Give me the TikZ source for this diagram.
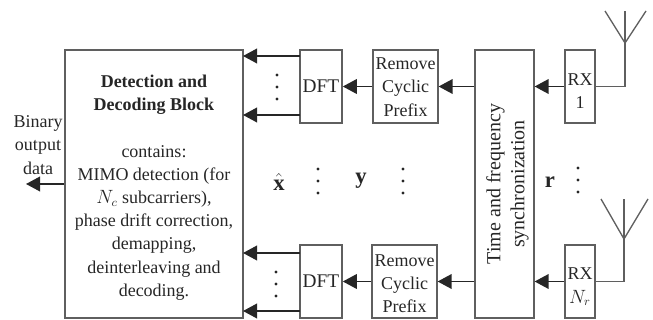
\documentclass[tikz,border=0pt]{standalone}
\usepackage{fontspec}
\setmainfont{Liberation Serif}
\usepackage{amsmath}
\usepackage{amssymb}
\usetikzlibrary{arrows.meta,positioning}
\usepackage{xcolor}
\definecolor{rxgray}{RGB}{95,95,95}
\tikzstyle{arrow} = [line width=1.1pt,-{Triangle[length=10.5pt,width=11pt]},color=black!85]
\tikzstyle{wire} = [line width=1pt,color=rxgray]
\tikzstyle{blockbox} = [rectangle, draw=rxgray, line width=1.2pt, text centered, inner sep=0pt, font=\fontsize{13.5pt}{17.4pt}\selectfont, text=black!85]
\tikzstyle{label} = [font=\fontsize{13.5pt}{17.4pt}\selectfont, align=center, inner sep=0pt, text=black!85]
\tikzstyle{symbol} = [font=\fontsize{17pt}{17pt}\selectfont, inner sep=0pt, text=black!85]

\begin{document}
\begin{tikzpicture}[x=0.75pt,y=-0.75pt]
\useasboundingbox (0,0) rectangle (653,320);

% Main block
\node (block) [blockbox, minimum width=133.5pt, minimum height=201pt] at (154,184) {};
\node (blocktext) [label] at (154,187.5) {\textbf{Detection and}\\\textbf{Decoding Block}\\[17.4pt]contains:\\MIMO detection (for\\$N_c$ subcarriers),\\phase drift correction,\\demapping,\\deinterleaving and\\decoding.};

% Top branch
\node (dfttop) [blockbox, minimum width=31.5pt, minimum height=55pt] at (321,86.5) {\fontsize{14.5pt}{17pt}\selectfont DFT};
\node (cptop) [blockbox, minimum width=48.5pt, minimum height=55pt] at (405.5,86.5) {};
\node (cptoptext) [label] at (405.5,87) {Remove\\Cyclic\\Prefix};
\node (rxtop) [blockbox, minimum width=22.5pt, minimum height=55pt] at (580,86.5) {};
\node (rxtoptext) [label] at (580,91) {RX\\1};

% Bottom branch
\node (dftbot) [blockbox, minimum width=31.5pt, minimum height=55pt] at (321,281.5) {\fontsize{14.5pt}{17pt}\selectfont DFT};
\node (cpbot) [blockbox, minimum width=48.5pt, minimum height=55pt] at (404.5,281.5) {};
\node (cpbottext) [label] at (404.5,283.5) {Remove\\Cyclic\\Prefix};
\node (rxbot) [blockbox, minimum width=22.5pt, minimum height=55pt] at (580,281.5) {};
\node (rxbottext) [label] at (580,287) {RX\\$N_r$};

% Synchronization
\node (sync) [blockbox, minimum width=44pt, minimum height=201pt] at (504.5,184) {};
\node (synctext) [font=\fontsize{15pt}{18pt}\selectfont, rotate=90, align=center, inner sep=0pt, text=black!85] at (507.5,184) {Time and frequency\\synchronization};

% Free ends
\coordinate (blockin1) at (243,56);
\coordinate (blockin2) at (243,115);
\coordinate (blockin3) at (243,253);
\coordinate (blockin4) at (243,311);
\coordinate (dftout1) at (300,56);
\coordinate (dftout2) at (300,115);
\coordinate (dftout3) at (300,253);
\coordinate (dftout4) at (300,311);
\coordinate (output) at (26,184);
\coordinate (anttop) at (625,43);
\coordinate (anttopl) at (605,11);
\coordinate (anttopc) at (625,11);
\coordinate (anttopr) at (646,11);
\coordinate (antbot) at (624,239);
\coordinate (antbotl) at (601,199);
\coordinate (antbotc) at (624,199);
\coordinate (antbotr) at (648,199);

% Arrows
\draw[arrow] (dftout1) -- (blockin1);
\draw[arrow] (dftout2) -- (blockin2);
\draw[arrow] (dftout3) -- (blockin3);
\draw[arrow] (dftout4) -- (blockin4);
\draw[arrow] (cptop) -- (dfttop);
\draw[arrow] (cpbot) -- (dftbot);
\draw[arrow] (sync.west |- cptop) -- (cptop);
\draw[arrow] (sync.west |- cpbot) -- (cpbot);
\draw[arrow] (rxtop) -- (sync.east |- rxtop);
\draw[arrow] (rxbot) -- (sync.east |- rxbot);
\draw[arrow] (block.west |- output) -- (output);

% Antennas
\draw[wire] (rxtop.east) -| (anttop);
\draw[wire] (anttopl) -- (anttop) -- (anttopr);
\draw[wire] (anttop) -- (anttopc);
\draw[wire] (rxbot.east) -| (antbot);
\draw[wire] (antbotl) -- (antbot) -- (antbotr);
\draw[wire] (antbot) -- (antbotc);

% Labels
\node (binary) [label] at (38,145) {Binary\\output\\data};
\node (xhat) [symbol] at (279,182) {$\hat{\mathbf{x}}$};
\node (ylabel) [symbol] at (361,181) {$\mathbf{y}$};
\node (rlabel) [symbol] at (550,182) {$\mathbf{r}$};

% Dots
\foreach \dotx/\doty in {277/87,276/284,318/181,403/181,578/180} {
  \foreach \dotoff in {-12,0,12} {
    \fill[black!85] (\dotx,\doty+\dotoff) circle (1.2pt);
  }
}
\end{tikzpicture}
\end{document}
